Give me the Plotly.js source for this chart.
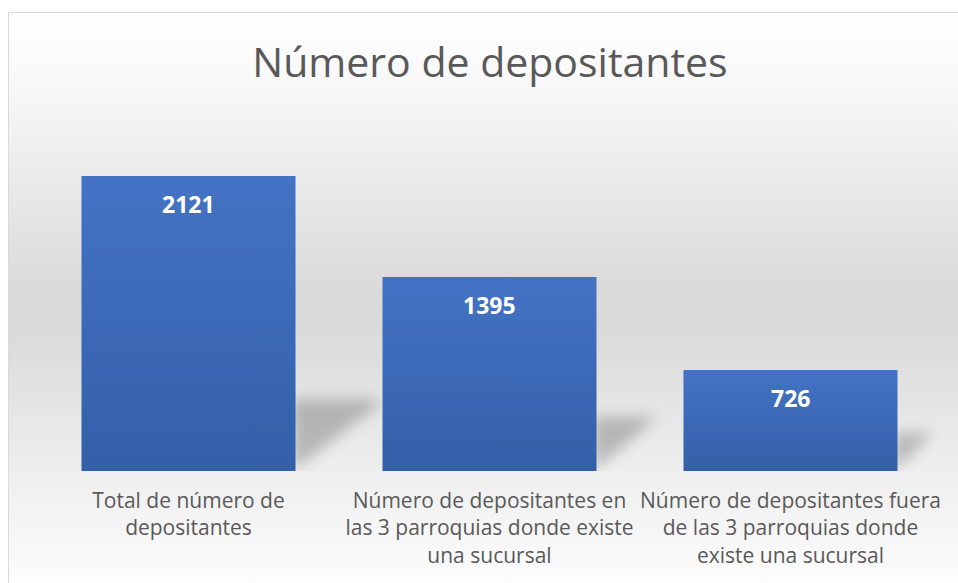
<!DOCTYPE html>
<html>
<head>
<meta charset="utf-8">
<script src="https://cdn.plot.ly/plotly-3.0.1.min.js"></script>
<style>
  html, body { margin: 0; padding: 0; width: 958px; height: 583px; overflow: hidden; background: #ffffff; }
  #frame { position: absolute; left: 8px; top: 12px; width: 970px; height: 590px;
           border: 1px solid #d9d9d9;
           background: linear-gradient(to bottom, #ffffff 0%, #f6f6f6 15%, #d9d9d9 48%, #dcdcdc 56%, #f0f0f0 80%, #ffffff 100%); }
  #chart { position: absolute; left: 0; top: 0; width: 958px; height: 583px; }
</style>
</head>
<body>
<div id="frame"></div>
<div id="chart"></div>
<svg width="0" height="0" style="position:absolute">
  <defs>
    <linearGradient id="barGrad" x1="0" y1="0" x2="0" y2="1">
      <stop offset="0" stop-color="#4473c5"/>
      <stop offset="1" stop-color="#345fa8"/>
    </linearGradient>
    <filter id="shadowBlur" x="-50%" y="-50%" width="200%" height="200%">
      <feGaussianBlur stdDeviation="7"/>
    </filter>
  </defs>
</svg>
<script>
// ---- data ----
const categories = [
  "Total de número de<br>depositantes",
  "Número de depositantes en<br>las 3 parroquias donde existe<br>una sucursal",
  "Número de depositantes fuera<br>de las 3 parroquias donde<br>existe una sucursal"
];
const values = [2121, 1395, 726];
const valueLabels = ["2121", "1395", "726"];
const positions = [0, 1, 2];

const barColor = "#3d69b6";
const textGray = "#595959";
const maxVal = Math.max.apply(null, values);

// perspective shadows behind each bar (derived from values)
const halfBar = 0.711 / 2;
const shadowShapes = positions.map(function (p, i) {
  const v = values[i];
  const xr = p + halfBar - 0.01;
  const dx = 0.03 + 0.27 * v / maxVal;
  const sh = 0.17 * v + 140;
  return {
    type: "path",
    xref: "x", yref: "y",
    path: "M " + xr + " 0 L " + (xr + dx) + " " + sh + " L " + (xr + dx * 0.85) + " " + (sh * 1.03) +
          " L " + xr + " " + (sh * 1.03) + " Z",
    fillcolor: "rgba(0,0,0,0.22)",
    line: { width: 0 },
    layer: "below"
  };
});

const labelAnnotations = positions.map(function (p, i) {
  return {
    x: p, y: values[i], xref: "x", yref: "y",
    text: "<b>" + valueLabels[i] + "</b>",
    showarrow: false,
    yanchor: "middle",
    yshift: -28,
    font: { family: "Open Sans, sans-serif", size: 23, color: "#ffffff" }
  };
});

const trace = {
  type: "bar",
  x: positions,
  y: values,
  marker: { color: barColor, line: { width: 0 } },
  hoverinfo: "skip"
};

const layout = {
  width: 958, height: 583,
  paper_bgcolor: "rgba(0,0,0,0)",
  plot_bgcolor: "rgba(0,0,0,0)",
  margin: { l: 38, r: 17, t: 100, b: 112 },
  bargap: 0.289,
  showlegend: false,
  title: {
    text: "Número de depositantes",
    font: { family: "Open Sans, sans-serif", size: 41, color: textGray },
    x: 490 / 958, xanchor: "center", xref: "container",
    y: 1 - 63 / 583, yanchor: "middle", yref: "container"
  },
  xaxis: {
    range: [-0.5, 2.5],
    tickmode: "array",
    tickvals: positions,
    ticktext: categories,
    showgrid: false, zeroline: false, showline: false,
    ticks: "", ticklen: 0,
    ticklabelstandoff: 15,
    tickfont: { family: "Open Sans, sans-serif", size: 21, color: textGray },
    fixedrange: true
  },
  yaxis: {
    range: [0, maxVal * 1.2576],
    showgrid: false, zeroline: false, showline: false,
    showticklabels: false, ticks: "",
    fixedrange: true
  },
  shapes: shadowShapes,
  annotations: labelAnnotations
};

Plotly.newPlot("chart", [trace], layout, { displayModeBar: false, staticPlot: true }).then(function () {
  document.querySelectorAll("#chart .shapelayer path").forEach(function (el) {
    el.setAttribute("filter", "url(#shadowBlur)");
  });
  document.querySelectorAll("#chart .trace.bars .point path").forEach(function (el) {
    el.style.fill = "url(#barGrad)";
  });
});
</script>
</body>
</html>
